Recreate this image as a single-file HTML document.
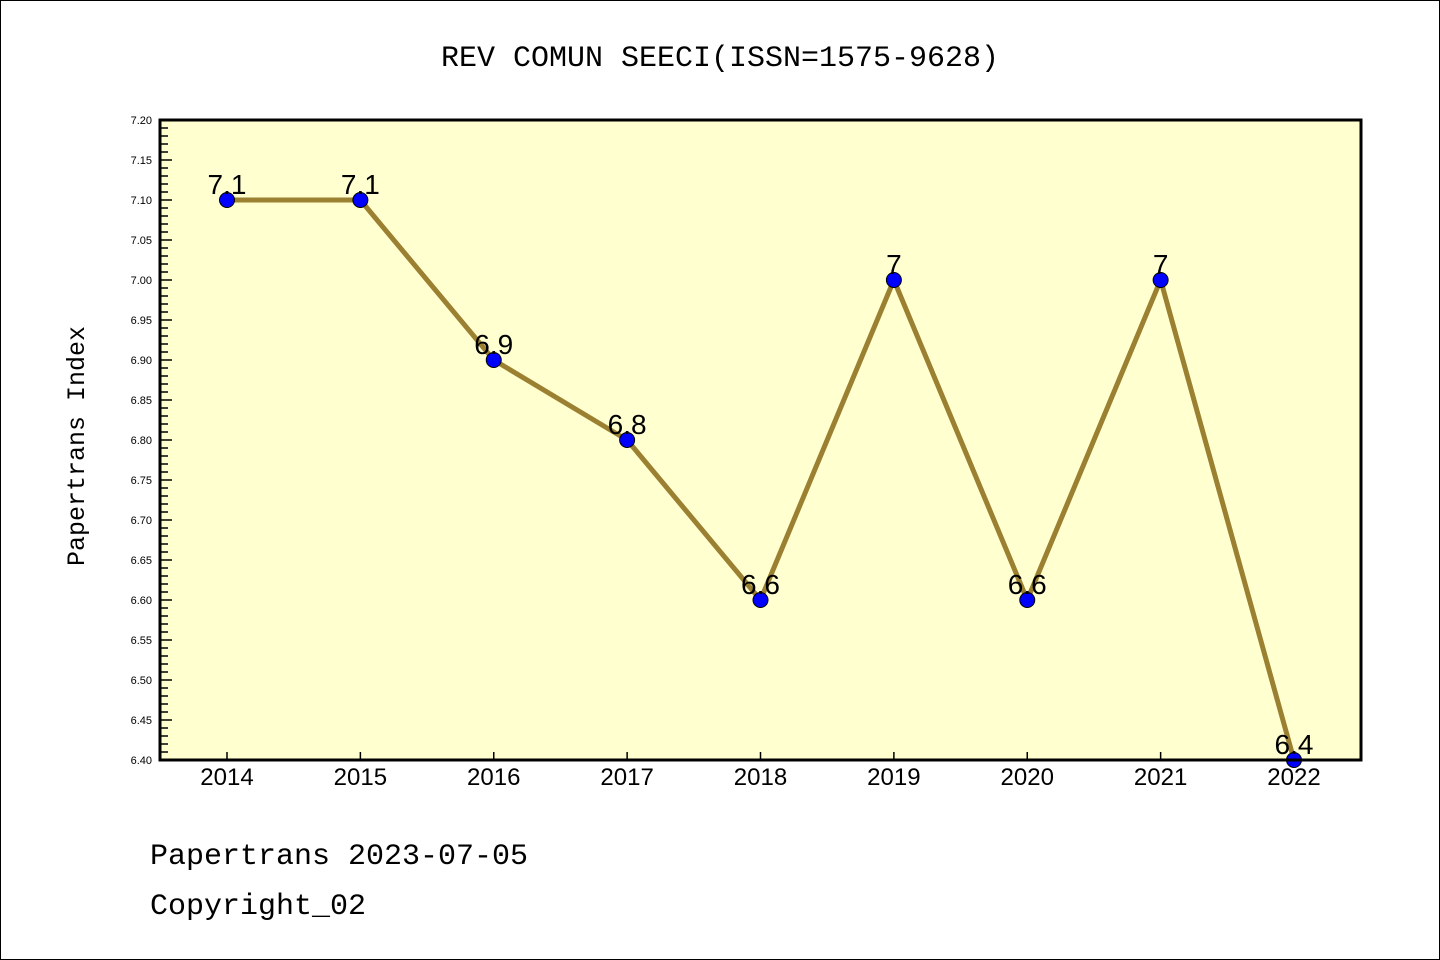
<!DOCTYPE html>
<html><head><meta charset="utf-8"><style>
body{margin:0;background:#fff}
svg{display:block;font-family:"Liberation Mono","DejaVu Sans Mono",monospace}
</style></head><body>
<svg id="chart" width="1440" height="960">
<rect x="0.5" y="0.5" width="1439" height="959" fill="#fff" stroke="#000"/>
<text x="720" y="66" text-anchor="middle" font-size="30">REV COMUN SEECI(ISSN=1575-9628)</text>
<rect x="160" y="120" width="1201" height="640" fill="#ffffd0"/>
<g id="yaxis"></g>
<g id="xaxis"></g>
<g id="series"></g>
<rect x="160" y="120" width="1201" height="640" fill="none" stroke="#000" stroke-width="3"/>
<text transform="translate(84,446) rotate(-90)" text-anchor="middle" font-size="25">Papertrans Index</text>
<text x="150" y="864" font-size="30">Papertrans 2023-07-05</text>
<text x="150" y="914" font-size="30">Copyright_02</text>
</svg>
<script>
const years=[2014,2015,2016,2017,2018,2019,2020,2021,2022];
const values=[7.1,7.1,6.9,6.8,6.6,7.0,6.6,7.0,6.4];
const valueLabels=["7.1","7.1","6.9","6.8","6.6","7","6.6","7","6.4"];
const yTicks=[6.40,6.45,6.50,6.55,6.60,6.65,6.70,6.75,6.80,6.85,6.90,6.95,7.00,7.05,7.10,7.15,7.20];
const NS="http://www.w3.org/2000/svg";
const yMin=6.4,yMax=7.2,plotTop=120,plotBot=760;
const y=v=>plotBot-(v-yMin)/(yMax-yMin)*(plotBot-plotTop);
const x=i=>227+i*(1294-227)/(years.length-1);
function mk(t,a,p){const e=document.createElementNS(NS,t);for(const k in a)e.setAttribute(k,a[k]);p.appendChild(e);return e;}
const ya=document.getElementById('yaxis'),xa=document.getElementById('xaxis'),se=document.getElementById('series');
for(let k=0;k<=80;k++){const v=yMin+k*0.01;const major=k%5===0;
 const l=mk('line',{x1:160,x2:160+(major?12:8),y1:y(v),y2:y(v),stroke:'#000','stroke-width':1.5},ya);
 
 }
yTicks.forEach(v=>{const t=mk('text',{x:152,y:y(v)+4,'text-anchor':'end','font-size':11,'font-family':'Liberation Sans, sans-serif'},ya);t.textContent=v.toFixed(2);
 
 });
years.forEach((yr,i)=>{const l=mk('line',{x1:x(i),x2:x(i),y1:760,y2:752,stroke:'#000','stroke-width':1.5},xa);
 
 
 const t=mk('text',{x:x(i),y:785,'text-anchor':'middle','font-size':24,'font-family':'Liberation Sans, sans-serif'},xa);t.textContent=yr;
 
 });
const pl=mk('polyline',{points:values.map((v,i)=>x(i)+','+y(v)).join(' '),fill:'none',stroke:'#9a8030','stroke-width':5},se);


values.forEach((v,i)=>{const c=mk('circle',{cx:x(i),cy:y(v),r:7.5,fill:'#0000ff',stroke:'#000','stroke-width':1},se);
 
 
 const t=mk('text',{x:x(i),y:y(v)-6,'text-anchor':'middle','font-size':28,'font-family':'Liberation Sans, sans-serif'},se);t.textContent=valueLabels[i];
 
 });
</script>
</body></html>
